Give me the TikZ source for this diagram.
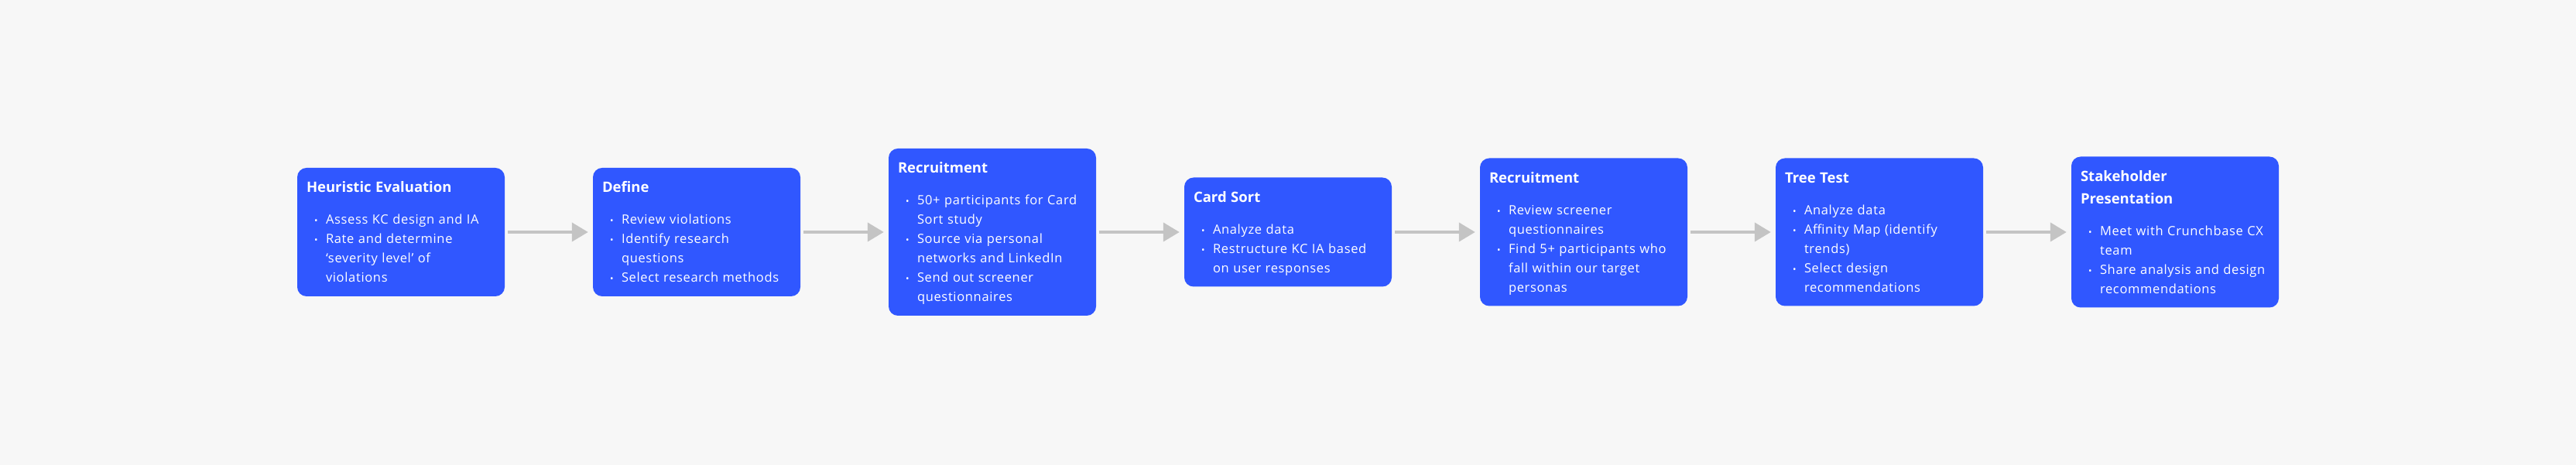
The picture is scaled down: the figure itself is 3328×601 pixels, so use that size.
\documentclass[tikz,border=0pt]{standalone}
\usepackage{fontspec}
\setmainfont{Open Sans}
\newfontfamily\bodyfont{Open Sans}[LetterSpace=4]
\usetikzlibrary{positioning,arrows.meta}

\definecolor{stageblue}{HTML}{3057FF}
\definecolor{arrowgray}{HTML}{C4C4C4}
\definecolor{canvas}{HTML}{F7F7F7}

\newcommand{\stagetitle}[1]{{\noindent\rmfamily\fontsize{18.5}{29}\selectfont\bfseries\rule{0pt}{20pt}#1\par}\vspace{16pt}}
\newcommand{\pitem}{\par\noindent\hangindent=25pt\hangafter=1\hspace*{10pt}\makebox[15pt][l]{\rmfamily\fontsize{12}{12}\selectfont\textbullet}}
\newcommand{\stageend}{\rule[-6pt]{0pt}{6pt}\par}

\begin{document}
\begin{tikzpicture}[x=1pt,y=1pt,shorten <=4pt,shorten >=6pt,node distance=382pt,on grid,
  stage/.style={rectangle,rounded corners=12pt,fill=stageblue,text=white,
    text width=244pt,inner xsep=12pt,inner ysep=12pt,
    font=\bodyfont\fontsize{16.5}{25}\selectfont},
  flow/.style={color=arrowgray,line width=4pt,-{Triangle[length=21pt,width=24pt]}}]
 \fill[canvas] (0,0) rectangle (3328,601);
 \node[stage] (heur) at (518,301) {\stagetitle{Heuristic Evaluation}
   \pitem Assess KC design and IA
   \pitem Rate and determine\newline ‘severity level’ of\newline violations\stageend};
 \node[stage] (define)[right=of heur] {\stagetitle{Define}
   \pitem Review violations
   \pitem Identify research\newline questions
   \pitem Select research methods\stageend};
 \node[stage] (recruit_1)[right=of define] {\stagetitle{Recruitment}
   \pitem 50+ participants for Card\newline Sort study
   \pitem Source via personal\newline networks and LinkedIn
   \pitem Send out screener\newline questionnaires\stageend};
 \node[stage] (cardsort)[right=of recruit_1] {\stagetitle{Card Sort}
   \pitem Analyze data
   \pitem Restructure KC IA based\newline on user responses\stageend};
 \node[stage] (recruit_2)[right=of cardsort] {\stagetitle{Recruitment}
   \pitem Review screener\newline questionnaires
   \pitem Find 5+ participants who\newline fall within our target\newline personas\stageend};
 \node[stage] (treetest)[right=of recruit_2] {\stagetitle{Tree Test}
   \pitem Analyze data
   \pitem Affinity Map (identify\newline trends)
   \pitem Select design\newline recommendations\stageend};
 \node[stage] (present)[right=of treetest] {\stagetitle{Stakeholder\newline Presentation}
   \pitem Meet with Crunchbase CX\newline team
   \pitem Share analysis and design\newline recommendations\stageend};
 \path
 (heur) edge[flow] (define)
 (define) edge[flow] (recruit_1)
 (recruit_1) edge[flow] (cardsort)
 (cardsort) edge[flow] (recruit_2)
 (recruit_2) edge[flow] (treetest)
 (treetest) edge[flow] (present);
\end{tikzpicture}
\end{document}
